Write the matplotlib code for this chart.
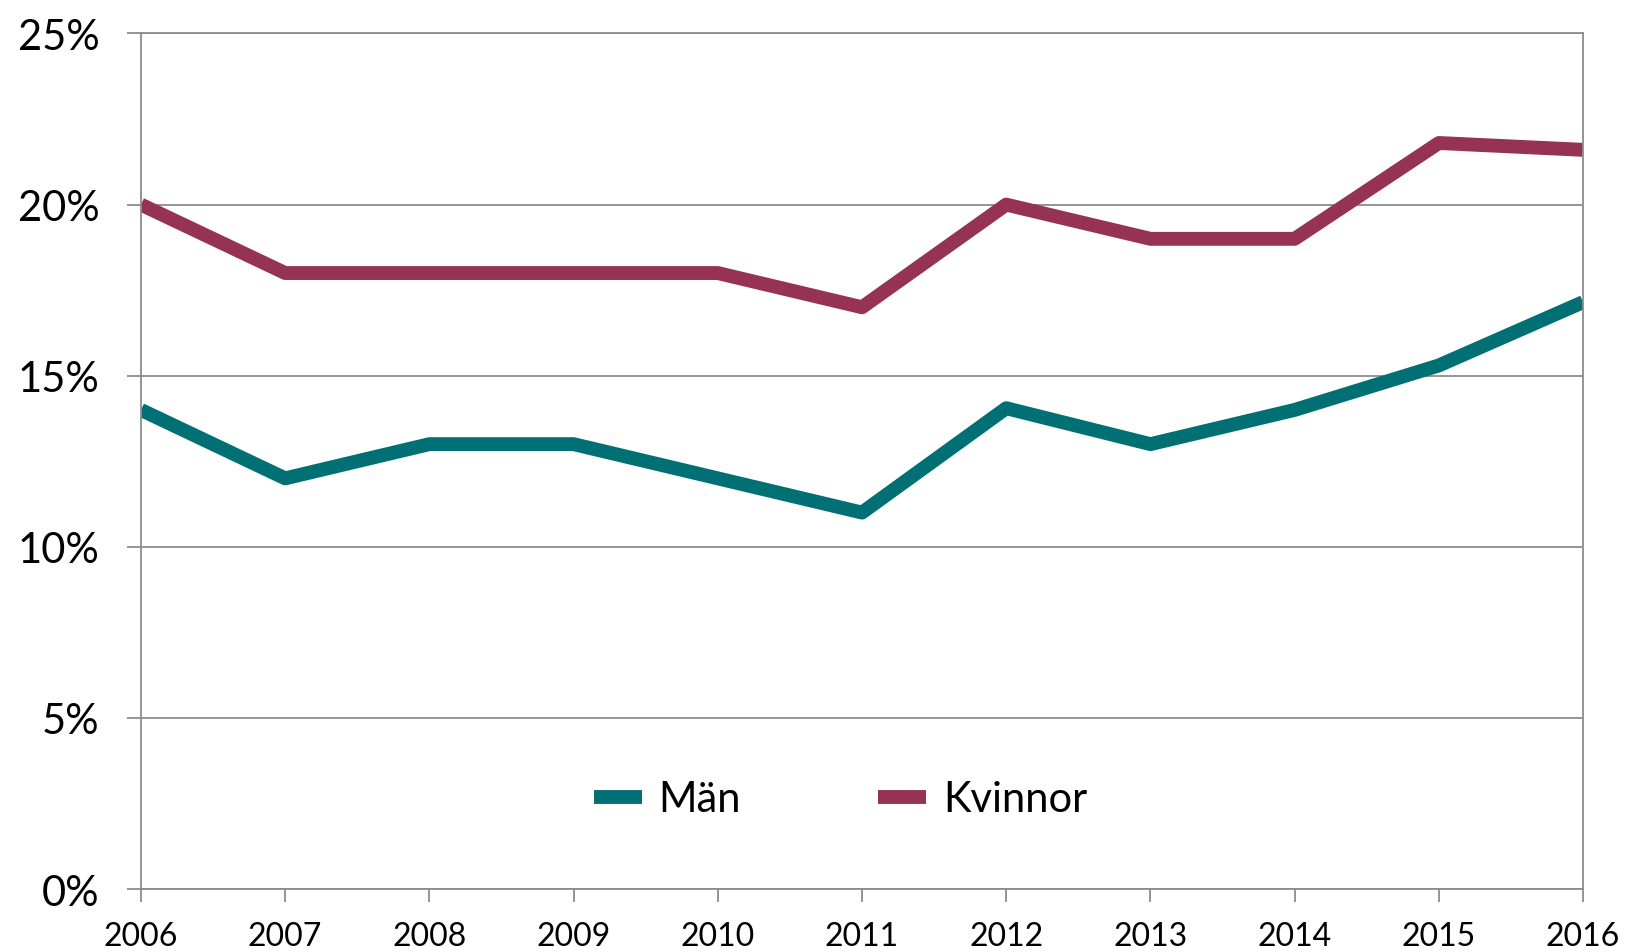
import matplotlib.pyplot as plt
from matplotlib.ticker import FuncFormatter

years = [2006, 2007, 2008, 2009, 2010, 2011, 2012, 2013, 2014, 2015, 2016]
man = [14.0, 12.0, 13.0, 13.0, 12.0, 11.0, 14.05, 13.0, 14.0, 15.3, 17.15]
kvinnor = [20.0, 18.0, 18.0, 18.0, 18.0, 17.0, 20.0, 19.0, 19.0, 21.8, 21.6]

plt.rcParams['font.family'] = ['Lato', 'DejaVu Sans']

fig = plt.figure(figsize=(16.26, 9.53), dpi=100)
ax = fig.add_axes([0.0867, 0.0661, 0.8869, 0.8977])

grid_col = '#8c8c8c'
ax.plot(years, man, color='#007074', lw=10, label='Män', solid_capstyle='butt')
ax.plot(years, kvinnor, color='#963254', lw=10, label='Kvinnor', solid_capstyle='butt')

ax.set_xlim(2006, 2016)
ax.set_ylim(0, 25)
ax.set_xticks(years)
ax.set_yticks([0, 5, 10, 15, 20, 25])
ax.yaxis.set_major_formatter(FuncFormatter(lambda v, p: '%d%%' % v))
ax.grid(axis='y', color=grid_col, lw=1.3)
ax.set_axisbelow(True)

for s in ax.spines.values():
    s.set_color(grid_col)
    s.set_linewidth(1.3)

ax.tick_params(axis='y', labelsize=30, length=10, width=1.3, color=grid_col, pad=20)
ax.tick_params(axis='x', labelsize=23, length=9, width=1.3, color=grid_col, pad=14)

ax.legend(loc='center', bbox_to_anchor=(0.485, 0.105), ncol=2, frameon=False,
          fontsize=30, handlelength=1.15, handletextpad=0.4, columnspacing=3.3)

fig.savefig('out.png', dpi=100)
